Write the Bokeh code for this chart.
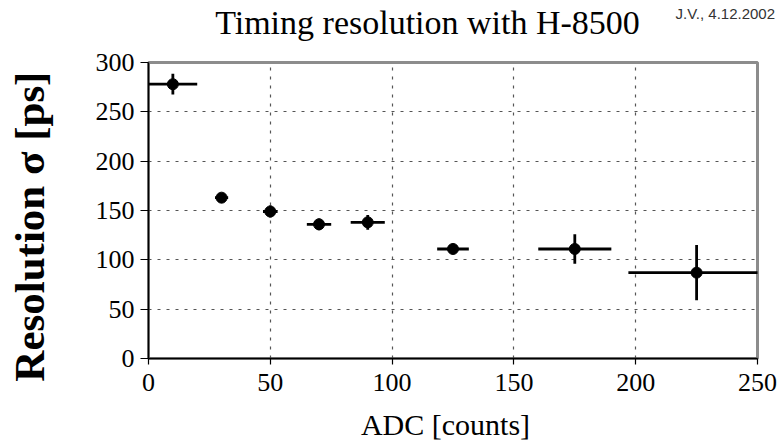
from bokeh.plotting import figure
from bokeh.models import (Range1d, Whisker, ColumnDataSource, FixedTicker, Title,
                          LinearAxis)
from bokeh.embed import file_html
from bokeh.resources import INLINE

# data
adc = [10, 30, 50, 70, 90, 125, 175, 225]
resolution = [278, 163, 149, 136, 138, 111, 111, 87]
adc_err = [10, 2.7, 3, 5, 7, 6.5, 15, 28]
res_err = [10.5, 2, 6, 6, 7.5, 4, 15, 28]
x_ticks = [0, 50, 100, 150, 200, 250]
y_ticks = [0, 50, 100, 150, 200, 250, 300]

title_text = "Timing resolution with H-8500"
note_text = "J.V., 4.12.2002"
x_label = "ADC [counts]"
y_label = "Resolution \u03c3 [ps]"

SERIF = "Liberation Serif"
NBSP = "\u00a0"

src = ColumnDataSource(dict(
    x=adc, y=resolution,
    xl=[a - e for a, e in zip(adc, adc_err)],
    xu=[a + e for a, e in zip(adc, adc_err)],
    yl=[r - e for r, e in zip(resolution, res_err)],
    yu=[r + e for r, e in zip(resolution, res_err)],
))

p = figure(width=779, height=444, output_backend="svg", toolbar_location=None,
           x_range=Range1d(0, 250), y_range=Range1d(0, 300),
           min_border_left=148, min_border_right=22, min_border_top=61,
           min_border_bottom=86)
p.title.visible = False
p.background_fill_color = "white"
p.outline_line_color = "#8c8c8c"
p.outline_line_width = 3

for ax in (p.xaxis[0], p.yaxis[0]):
    ax.axis_line_color = "black"
    ax.axis_line_width = 1.5
    ax.major_tick_line_color = "black"
    ax.major_tick_line_width = 1.2
    ax.major_tick_in = 0
    ax.minor_tick_line_color = None
    ax.major_label_text_font = SERIF
    ax.major_label_text_font_size = "26px"
    ax.major_label_text_color = "black"
    ax.axis_label_text_font = SERIF
    ax.axis_label_text_color = "black"
p.xaxis.ticker = FixedTicker(ticks=x_ticks)
p.yaxis.ticker = FixedTicker(ticks=y_ticks)
p.xaxis.major_tick_out = 6
p.yaxis.major_tick_out = 8
p.xaxis.major_label_standoff = 9
p.yaxis.major_label_standoff = 6

p.xaxis.axis_label = x_label + NBSP * 2
p.xaxis.axis_label_text_font_size = "30px"
p.xaxis.axis_label_text_font_style = "normal"
p.xaxis.axis_label_standoff = 14

p.yaxis.axis_label = y_label + NBSP * 3
p.yaxis.axis_label_text_font_size = "43px"
p.yaxis.axis_label_text_font_style = "bold"
p.yaxis.axis_label_standoff = 40

for g in (p.xgrid, p.ygrid):
    g.grid_line_color = "#555555"
    g.grid_line_width = 1.2
    g.grid_line_dash = "3 6"

p.add_layout(Whisker(source=src, base="y", lower="xl", upper="xu", dimension="width",
                     line_color="black", line_width=2.8,
                     lower_head=None, upper_head=None))
p.add_layout(Whisker(source=src, base="x", lower="yl", upper="yu", dimension="height",
                     line_color="black", line_width=2.8,
                     lower_head=None, upper_head=None))
p.scatter("x", "y", source=src, size=11, color="black")

# title drawn as the label of a bare axis above the frame
top_axis = LinearAxis(ticker=FixedTicker(ticks=[]), axis_line_color=None,
                      major_tick_line_color=None, minor_tick_line_color=None,
                      major_label_text_font_size="0px",
                      axis_label=title_text + NBSP * 6,
                      axis_label_text_font=SERIF, axis_label_text_font_size="34px",
                      axis_label_text_font_style="normal", axis_label_text_color="black",
                      axis_label_standoff=22)
p.add_layout(top_axis, "above")
p.add_layout(Title(text=note_text, text_font="Liberation Sans", text_font_size="15px",
                   text_font_style="normal", text_color="#333333", align="left",
                   offset=527, standoff=-42), "above")

open("out.html", "w").write(file_html(p, INLINE))
